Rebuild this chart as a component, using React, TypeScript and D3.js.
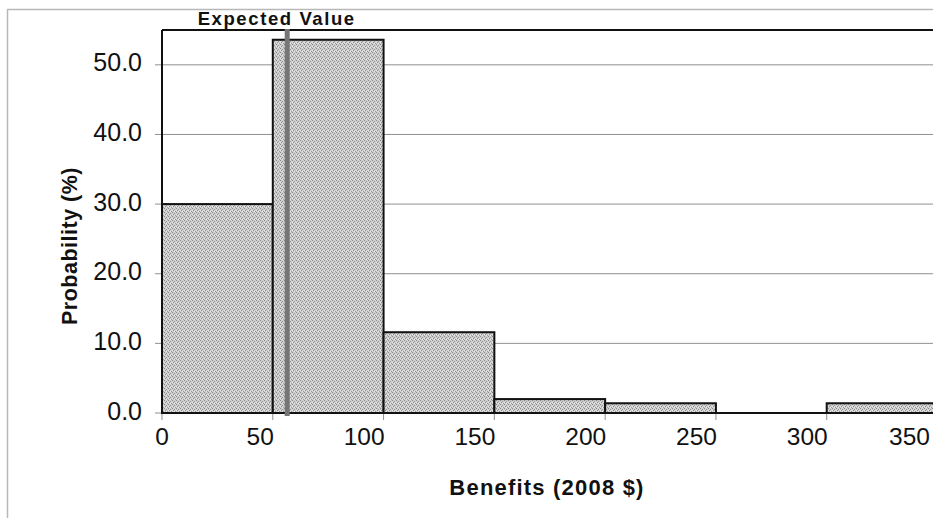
import React from "react";
import * as d3 from "d3";

const binStarts = [0, 50, 100, 150, 200, 250, 300];
const binWidth = 50;
const probabilities = [30.0, 53.6, 11.6, 2.0, 1.4, 0.0, 1.4];
const yTicks = [0, 10, 20, 30, 40, 50];
const xTicks = [0, 50, 100, 150, 200, 250, 300, 350];
const expectedValue = 56.5;
const expectedLabel = "Expected Value";
const xTitle = "Benefits (2008 $)";
const yTitle = "Probability (%)";

const W = 933;
const H = 518;

export default function App() {
  const x = d3.scaleLinear().domain([0, 350]).range([162, 937.5]);
  const y = d3.scaleLinear().domain([0, 55]).range([413, 30]);
  const font = "'Liberation Sans', Arial, sans-serif";

  return (
    <div style={{ position: "fixed", left: 0, top: 0, width: W, height: H, background: "#fff" }}>
      <svg width={W} height={H} style={{ display: "block", overflow: "hidden" }}>
        <defs>
          <pattern id="stip" width={4} height={4} patternUnits="userSpaceOnUse">
            <rect width={4} height={4} fill="#cfcfcf" />
            <rect x={0} y={0} width={1} height={1} fill="#8a8a8a" />
            <rect x={2} y={1} width={1} height={1} fill="#9a9a9a" />
            <rect x={1} y={2} width={1} height={1} fill="#8a8a8a" />
            <rect x={3} y={3} width={1} height={1} fill="#9a9a9a" />
            <rect x={2} y={3} width={1} height={1} fill="#e8e8e8" />
            <rect x={0} y={2} width={1} height={1} fill="#e8e8e8" />
          </pattern>
        </defs>
        <rect width={W} height={H} fill="#fff" />
        {/* chart area border */}
        <line x1={7.5} x2={7.5} y1={9} y2={H} stroke="#b8b8b8" strokeWidth={1.5} />
        <line x1={7.5} x2={W} y1={9.5} y2={9.5} stroke="#b8b8b8" strokeWidth={1.5} />

        {/* gridlines */}
        {yTicks.filter((t) => t > 0).map((t) => (
          <line key={"g" + t} x1={x(0)} x2={W} y1={y(t)} y2={y(t)} stroke="#8f8f8f" strokeWidth={1} />
        ))}
        {/* y tick marks */}
        {yTicks.map((t) => (
          <line key={"yt" + t} x1={x(0) - 7} x2={x(0)} y1={y(t)} y2={y(t)} stroke="#8f8f8f" strokeWidth={1} />
        ))}
        {/* x tick marks */}
        {xTicks.map((t) => (
          <line key={"xt" + t} x1={x(t)} x2={x(t)} y1={y(0)} y2={y(0) + 7} stroke="#8f8f8f" strokeWidth={1} />
        ))}

        {/* plot border top & left */}
        <line x1={x(0)} x2={W} y1={y(55)} y2={y(55)} stroke="#111" strokeWidth={2} />
        <line x1={x(0)} x2={x(0)} y1={y(55)} y2={y(0)} stroke="#111" strokeWidth={2} />

        {/* bars */}
        {binStarts.map((s, i) => (
          <rect
            key={"b" + i}
            x={x(s)}
            y={y(probabilities[i])}
            width={x(s + binWidth) - x(s)}
            height={y(0) - y(probabilities[i])}
            fill="url(#stip)"
            stroke="#111"
            strokeWidth={2}
          />
        ))}
        <line x1={x(0)} x2={W} y1={y(0)} y2={y(0)} stroke="#111" strokeWidth={2} />

        {/* expected value line */}
        <line x1={x(expectedValue)} x2={x(expectedValue)} y1={y(55) - 1} y2={y(0) + 3} stroke="#767676" strokeWidth={5} />
        <text x={276.7} y={24.5} textAnchor="middle" fontFamily={font} fontWeight="bold" fontSize={18.5} letterSpacing={1.6} fill="#111">
          {expectedLabel}
        </text>

        {/* y tick labels */}
        {yTicks.map((t) => (
          <text key={"yl" + t} x={142} y={y(t) + 6.5} textAnchor="end" fontFamily={font} fontSize={25} fill="#111">
            {d3.format(".1f")(t)}
          </text>
        ))}
        {/* x tick labels */}
        {xTicks.map((t) => (
          <text
            key={"xl" + t}
            x={t === 0 ? x(t) : Math.min(x(t) + 1, 930)}
            y={444.5}
            textAnchor={t === 0 ? "middle" : "end"}
            fontFamily={font}
            fontSize={24.5}
            fill="#111"
          >
            {t}
          </text>
        ))}

        {/* axis titles */}
        <text x={547} y={495} textAnchor="middle" fontFamily={font} fontWeight="bold" fontSize={22} letterSpacing={1.2} fill="#111">
          {xTitle}
        </text>
        <text
          transform={`translate(77,246) rotate(-90)`}
          textAnchor="middle"
          fontFamily={font}
          fontWeight="bold"
          fontSize={21.5}
          letterSpacing={0.5}
          fill="#111"
        >
          {yTitle}
        </text>
      </svg>
    </div>
  );
}
